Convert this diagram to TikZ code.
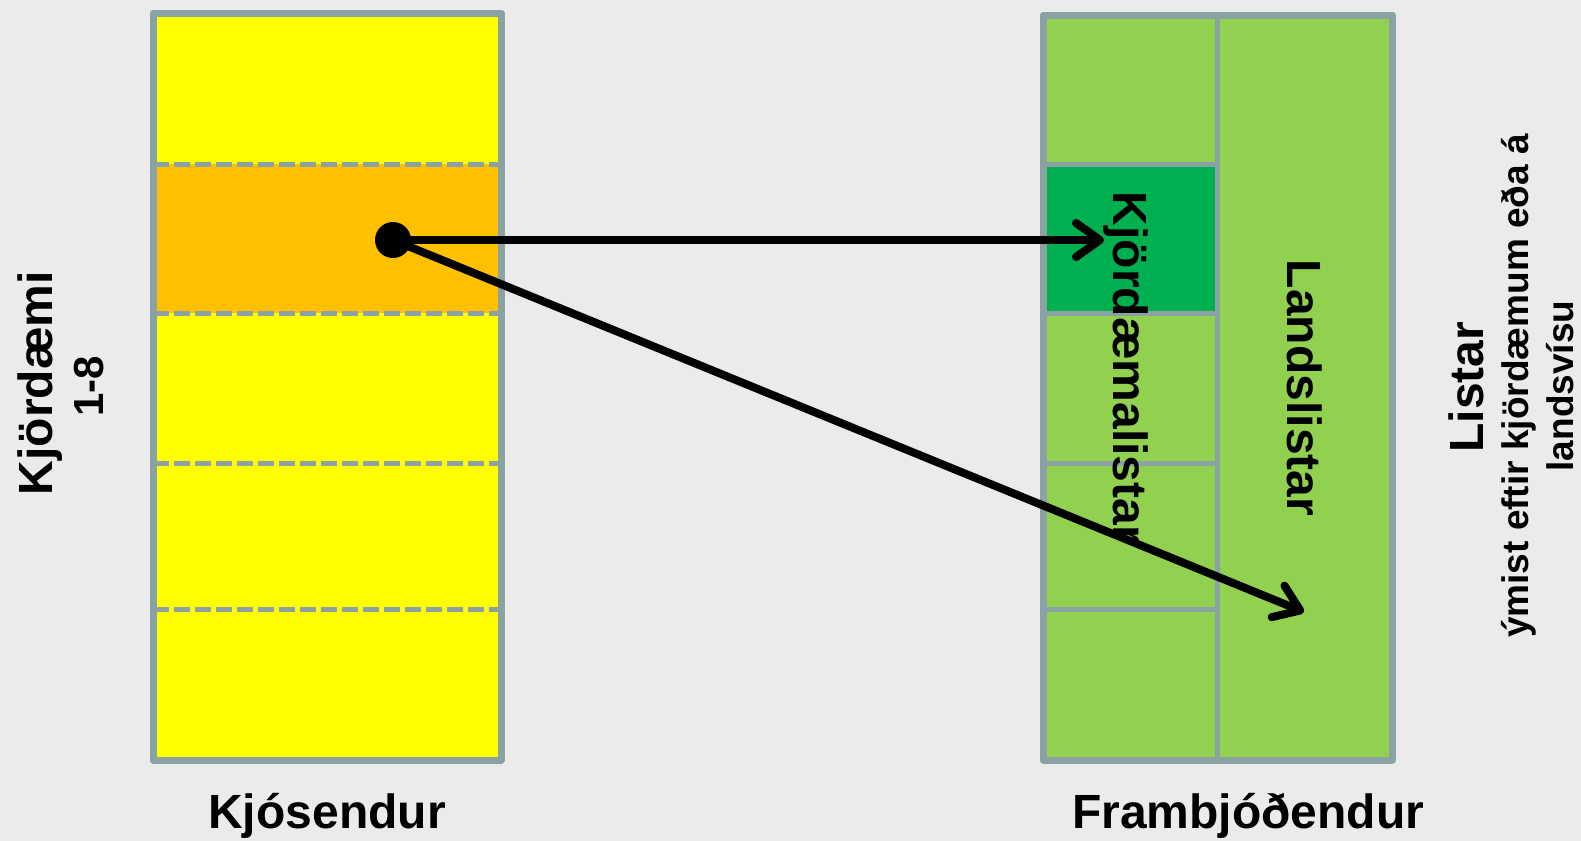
\documentclass[tikz,border=0pt]{standalone}
\usepackage{fontspec}
\setmainfont{Liberation Sans}
\usetikzlibrary{arrows.meta}
\definecolor{backgr}{HTML}{EBEBEB}
\definecolor{boxgray}{RGB}{139,162,165}
\definecolor{voteyellow}{HTML}{FFFF00}
\definecolor{voteorange}{HTML}{FFC000}
\definecolor{listgreen}{HTML}{92D050}
\definecolor{seatgreen}{HTML}{00B050}
\tikzset{
	textlabel/.style={font=\bfseries\fontsize{24}{28}\selectfont, inner sep=0pt, anchor=base},
	smalllabel/.style={textlabel, font=\bfseries\fontsize{18.5}{22}\selectfont},
	outline/.style={draw=boxgray, line width=3.5pt, line join=round},
	divider/.style={boxgray, line width=2.5pt},
	votearrow/.style={line width=4pt, -{Straight Barb[length=12pt,width=17pt,round]}},
}
\begin{document}
\begin{tikzpicture}[x=0.5pt, y=-0.5pt]
	% background
	\fill[backgr] (0,0) rectangle (1581,841);
	\useasboundingbox (0,0) rectangle (1581,841);

	% voters, one band per constituency
	\fill[voteyellow]	(153,13) rectangle (501,760);
	\fill[voteorange]	(153,164) rectangle (501,313);
	\foreach \y in {164,313,463,609}
		\draw[divider, dash pattern=on 8pt off 2.5pt] (153,\y) -- (501,\y);
	\draw[outline]	(153,13) rectangle (501,760);

	% candidates, constituency lists and national lists
	\fill[listgreen]	(1043,15) rectangle (1392,760);
	\fill[seatgreen]	(1043,164) rectangle (1217,313);
	\foreach \y in {164,313,463,609}
		\draw[divider] (1043,\y) -- (1217,\y);
	\draw[divider]	(1217,15) -- (1217,760);
	\draw[outline]	(1043,15) rectangle (1392,760);

	% vertical labels
	\node[textlabel, rotate=90]		(kjordaemi)	at (52,383)		{Kjördæmi};
	\node[textlabel, rotate=90, font=\bfseries\fontsize{21}{24}\selectfont]
									(numbers)	at (103,386)	{1-8};
	\node[textlabel, rotate=-90]	(kjlistar)	at (1113,368)	{Kjördæmalistar};
	\node[textlabel, rotate=-90]	(landslistar)	at (1287,388)	{Landslistar};
	\node[textlabel, rotate=90]		(listar)	at (1483,387)	{Listar};
	\node[smalllabel, rotate=90]	(listsub)	at (1528,386)	{ýmist eftir kjördæmum eða á};
	\node[smalllabel, rotate=90]	(listsubb)	at (1573,386)	{landsvísu};

	% bottom labels
	\node[textlabel]	(voters)	at (327,828)	{Kjósendur};
	\node[textlabel]	(candidates)	at (1248,828)	{Frambjóðendur};

	% the vote goes to both kinds of list
	\node[circle, fill=black, minimum size=18pt, inner sep=0pt] (dot) at (393,240) {};
	\coordinate (kjtip)		at (1104,240);
	\coordinate (landtip)	at (1304,612);
	\draw[votearrow]	(dot.center) -- (kjtip);
	\draw[votearrow]	(dot.center) -- (landtip);
\end{tikzpicture}
\end{document}
